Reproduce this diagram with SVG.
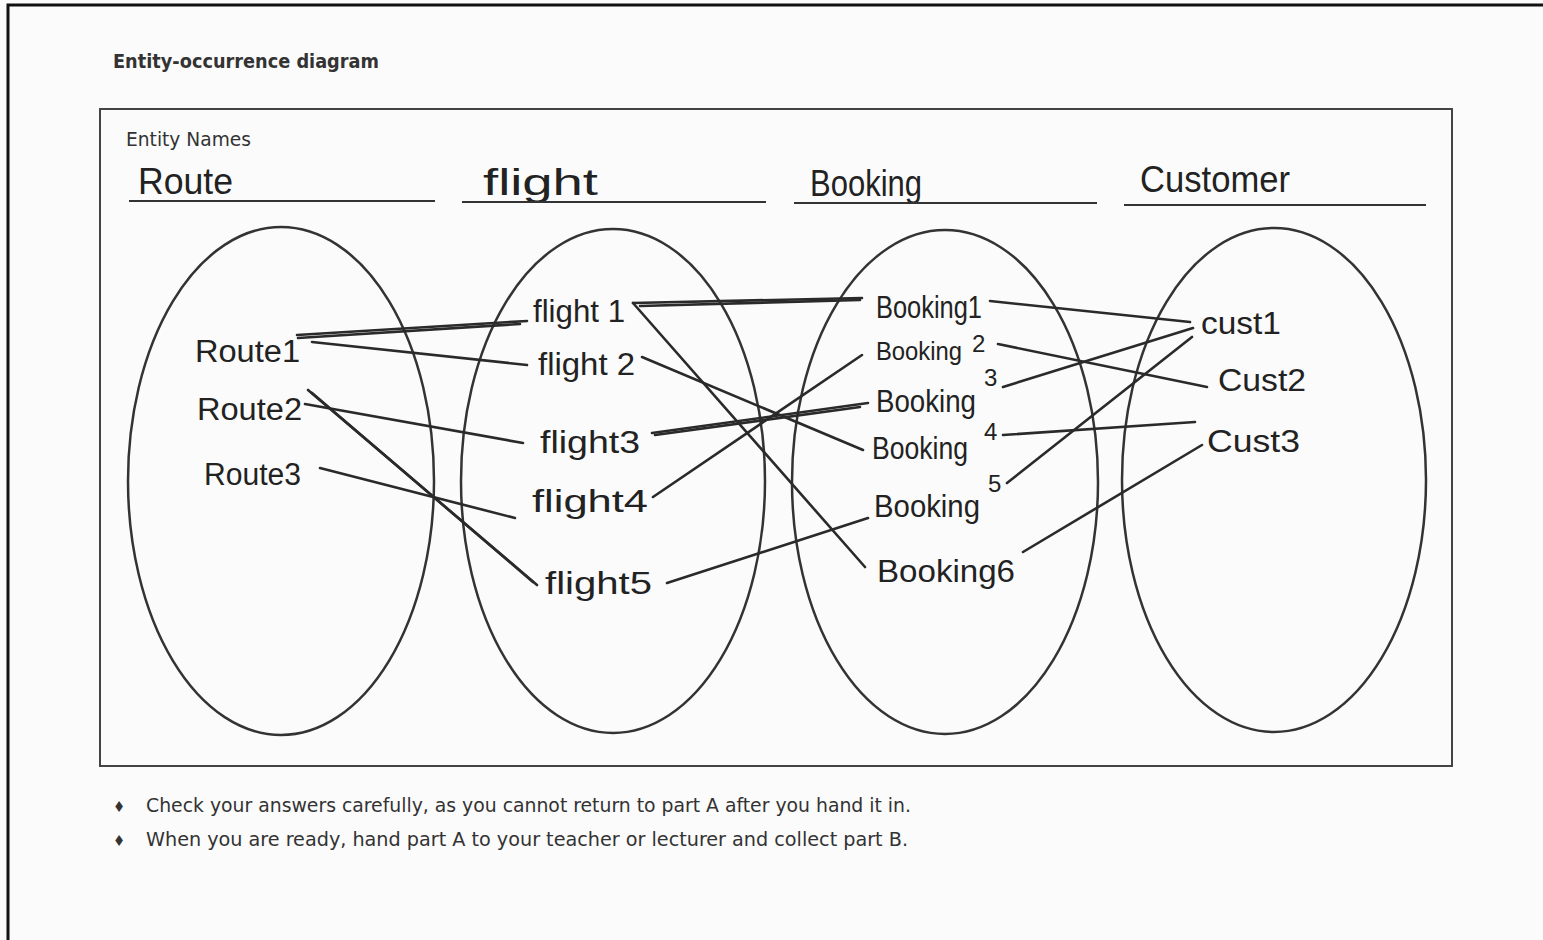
<svg xmlns="http://www.w3.org/2000/svg" width="1543" height="940" viewBox="0 0 1543 940">
<style>
.frame{fill:none;stroke:#111;stroke-width:3}
.box{fill:none;stroke:#444;stroke-width:2}
.ul{stroke:#333;stroke-width:2}
.ell{fill:none;stroke:#333;stroke-width:2.5}
.con line{stroke:#2a2a2a;stroke-width:2.6;stroke-linecap:round}
.print{font-family:"DejaVu Sans Condensed","DejaVu Sans","Liberation Sans",sans-serif;fill:#333}
.hand{font-family:"Liberation Sans","DejaVu Sans",sans-serif;fill:#222;font-weight:normal}
.hd{font-size:36px}
.it{font-size:31px}
.sup{font-size:24px}
</style>
<rect x="0" y="0" width="1543" height="940" fill="#fbfbfb"/>
<path class="frame" d="M8 940 V5 H1543"/>
<text class="print" x="113" y="68" font-size="20" font-weight="bold" textLength="266" lengthAdjust="spacingAndGlyphs">Entity-occurrence diagram</text>
<rect class="box" x="100" y="109" width="1352" height="657"/>
<text class="print" x="126" y="146" font-size="20" textLength="125" lengthAdjust="spacingAndGlyphs">Entity Names</text>

<g id="route">
<text class="hand hd" x="138" y="194" textLength="95" lengthAdjust="spacingAndGlyphs">Route</text>
<line class="ul" x1="129" y1="201" x2="435" y2="201"/>
<ellipse class="ell" cx="281" cy="481" rx="153" ry="254"/>
<text class="hand it" x="195" y="362" textLength="105" lengthAdjust="spacingAndGlyphs">Route1</text>
<text class="hand it" x="197" y="420" textLength="105" lengthAdjust="spacingAndGlyphs">Route2</text>
<text class="hand it" x="204" y="485" textLength="97" lengthAdjust="spacingAndGlyphs">Route3</text>
</g>

<g id="flight">
<text class="hand hd" x="483" y="195" textLength="115" lengthAdjust="spacingAndGlyphs">flight</text>
<line class="ul" x1="462" y1="202" x2="766" y2="202"/>
<ellipse class="ell" cx="613" cy="481" rx="152" ry="252"/>
<text class="hand it" x="533" y="322" textLength="92" lengthAdjust="spacingAndGlyphs">flight 1</text>
<text class="hand it" x="538" y="375" textLength="97" lengthAdjust="spacingAndGlyphs">flight 2</text>
<text class="hand it" x="540" y="453" textLength="100" lengthAdjust="spacingAndGlyphs">flight3</text>
<text class="hand it" x="532" y="512" textLength="116" lengthAdjust="spacingAndGlyphs">flight4</text>
<text class="hand it" x="545" y="594" textLength="107" lengthAdjust="spacingAndGlyphs">flight5</text>
</g>

<g id="booking">
<text class="hand hd" x="810" y="196" textLength="112" lengthAdjust="spacingAndGlyphs">Booking</text>
<line class="ul" x1="794" y1="203" x2="1097" y2="203"/>
<ellipse class="ell" cx="945" cy="482" rx="153" ry="252"/>
<text class="hand it" x="876" y="318" textLength="106" lengthAdjust="spacingAndGlyphs">Booking1</text>
<text class="hand" x="876" y="360" font-size="25" textLength="86" lengthAdjust="spacingAndGlyphs">Booking</text>
<text class="hand sup" x="972" y="352">2</text>
<text class="hand it" x="876" y="412" textLength="100" lengthAdjust="spacingAndGlyphs">Booking</text>
<text class="hand sup" x="984" y="386">3</text>
<text class="hand it" x="872" y="459" textLength="96" lengthAdjust="spacingAndGlyphs">Booking</text>
<text class="hand sup" x="984" y="440">4</text>
<text class="hand it" x="874" y="517" textLength="106" lengthAdjust="spacingAndGlyphs">Booking</text>
<text class="hand sup" x="988" y="492">5</text>
<text class="hand it" x="877" y="582" textLength="138" lengthAdjust="spacingAndGlyphs">Booking6</text>
</g>

<g id="customer">
<text class="hand hd" x="1140" y="192" textLength="150" lengthAdjust="spacingAndGlyphs">Customer</text>
<line class="ul" x1="1124" y1="205" x2="1426" y2="205"/>
<ellipse class="ell" cx="1274" cy="480" rx="152" ry="252"/>
<text class="hand it" x="1201" y="334" textLength="80" lengthAdjust="spacingAndGlyphs">cust1</text>
<text class="hand it" x="1218" y="391" textLength="88" lengthAdjust="spacingAndGlyphs">Cust2</text>
<text class="hand it" x="1207" y="452" textLength="93" lengthAdjust="spacingAndGlyphs">Cust3</text>
</g>

<g id="connectors" class="con">
<line x1="297" y1="335" x2="527" y2="321"/>
<line x1="298" y1="338" x2="520" y2="324"/>
<line x1="312" y1="342" x2="527" y2="365"/>
<line x1="305" y1="404" x2="523" y2="443"/>
<line x1="308" y1="390" x2="537" y2="585"/>
<line x1="312" y1="393" x2="533" y2="582"/>
<line x1="320" y1="468" x2="515" y2="518"/>
<line x1="633" y1="303" x2="862" y2="298"/>
<line x1="640" y1="306" x2="860" y2="300"/>
<line x1="633" y1="303" x2="865" y2="567"/>
<line x1="642" y1="357" x2="863" y2="450"/>
<line x1="652" y1="433" x2="868" y2="403"/>
<line x1="655" y1="435" x2="860" y2="407"/>
<line x1="653" y1="497" x2="862" y2="355"/>
<line x1="667" y1="583" x2="868" y2="518"/>
<line x1="990" y1="301" x2="1190" y2="322"/>
<line x1="998" y1="344" x2="1207" y2="387"/>
<line x1="1003" y1="387" x2="1193" y2="328"/>
<line x1="1003" y1="435" x2="1195" y2="422"/>
<line x1="1007" y1="483" x2="1192" y2="337"/>
<line x1="1023" y1="552" x2="1202" y2="445"/>
</g>

<text class="print" x="113" y="812" font-size="15">♦</text>
<text class="print" x="146" y="812" font-size="20" textLength="765" lengthAdjust="spacingAndGlyphs">Check your answers carefully, as you cannot return to part A after you hand it in.</text>
<text class="print" x="113" y="846" font-size="15">♦</text>
<text class="print" x="146" y="846" font-size="20" textLength="762" lengthAdjust="spacingAndGlyphs">When you are ready, hand part A to your teacher or lecturer and collect part B.</text>
</svg>
